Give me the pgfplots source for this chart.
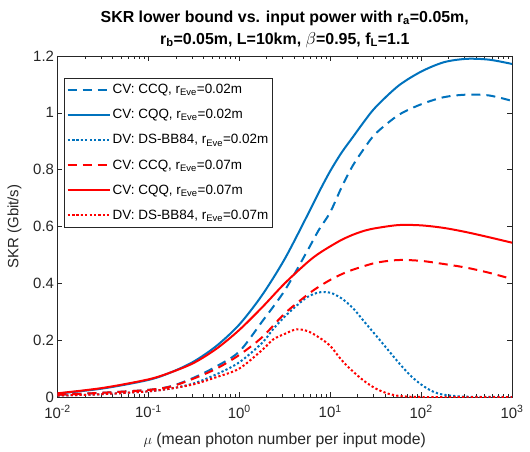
\documentclass[border=0pt]{standalone}
\usepackage{pgfplots}
\pgfplotsset{compat=1.18}
\usepackage{fontspec}
\setmainfont{Liberation Sans}
\definecolor{mblue}{rgb}{0,0.447,0.741}
\definecolor{axgray}{rgb}{0.15,0.15,0.15}

\begin{document}
\begin{tikzpicture}
\useasboundingbox (-57.5bp,-55bp) rectangle (472.5bp,397bp);
\begin{axis}[
    scale only axis,
    width=454.5bp, height=341bp,
    xmode=log,
    xmin=0.01, xmax=1000,
    ymin=0, ymax=1.2,
    xtick={0.01,0.1,1,10,100,1000},
    xticklabels={10\textsuperscript{-2},10\textsuperscript{-1},10\textsuperscript{0},10\textsuperscript{1},10\textsuperscript{2},10\textsuperscript{3}},
    ytick={0,0.2,0.4,0.6,0.8,1,1.2},
    yticklabel style={/pgf/number format/assume math mode=true},
    tick label style={font=\fontsize{15}{17}\selectfont, text=axgray},
    xticklabel style={yshift=-5bp},
    tick align=inside,
    major tick length=5bp, minor tick length=3bp,
    axis line style={axgray, line width=0.5bp},
    every tick/.style={axgray, line width=0.5bp},
    xlabel={$\mu$ (mean photon number per input mode)},
    ylabel={SKR (Gbit/s)},
    label style={text=axgray},
    xlabel style={font=\fontsize{15.8}{18}\selectfont, yshift=-8bp},
    ylabel style={font=\fontsize{15}{17}\selectfont, yshift=5bp},
    title={SKR lower bound vs. input power with r\textsubscript{a}=0.05m,\\r\textsubscript{b}=0.05m, L=10km, $\beta$=0.95, f\textsubscript{L}=1.1},
    title style={font=\bfseries\fontsize{16}{22}\selectfont, align=center, yshift=-1bp},
    legend cell align=left,
    legend style={at={(0.0154,0.9355)}, anchor=north west, draw=axgray,
        font=\fontsize{13.5}{16}\selectfont, row sep=10.3bp, inner sep=2bp,
        inner ysep=4bp},
    legend image code/.code={\draw[#1, line width=2bp] plot coordinates {(0bp,0bp) (42bp,0bp)};},
    every axis plot/.append style={line width=2bp, smooth},
    cvd/.style={dash pattern=on 9bp off 6bp},
    dvd/.style={dash pattern=on 2.2bp off 2.2bp},
]
% CV: CCQ, rEve=0.02m
\addplot[mblue, cvd] coordinates {
(0.01,0.008) (0.03162,0.015) (0.1,0.025) (0.1778,0.038) (0.3162,0.068) (0.5623,0.108)
(1,0.16) (1.778,0.265) (3.162,0.375) (5.623,0.515) (7.499,0.588) (10,0.65) (13.34,0.738)
(17.78,0.815) (23.71,0.875) (31.62,0.927) (56.23,0.992) (100,1.03) (177.8,1.055)
(316.2,1.064) (562.3,1.061) (1000,1.042)};
\addlegendentry{CV: CCQ, r\textsubscript{Eve}=0.02m}
% CV: CQQ, rEve=0.02m
\addplot[mblue] coordinates {
(0.01,0.012) (0.03162,0.030) (0.1,0.060) (0.1778,0.087) (0.3162,0.125) (0.5623,0.180)
(1,0.255) (1.778,0.358) (3.162,0.486) (5.623,0.64) (7.499,0.72) (10,0.795) (13.34,0.86)
(17.78,0.915) (23.71,0.97) (31.62,1.02) (56.23,1.095) (100,1.145) (177.8,1.178)
(316.2,1.19) (562.3,1.187) (1000,1.172)};
\addlegendentry{CV: CQQ, r\textsubscript{Eve}=0.02m}
% DV: DS-BB84, rEve=0.02m
\addplot[mblue, dvd] coordinates {
(0.01,0.005) (0.03162,0.010) (0.1,0.02) (0.1778,0.03) (0.3162,0.048) (0.5623,0.08)
(1,0.122) (1.778,0.19) (2.371,0.24) (3.162,0.283) (4.217,0.32) (5.623,0.352) (7.499,0.368)
(10,0.367) (13.34,0.347) (17.78,0.313) (23.71,0.265) (31.62,0.218) (42.17,0.17)
(56.23,0.122) (74.99,0.078) (100,0.044) (133.4,0.02) (177.8,0.008) (316.2,0.001) (1000,0)};
\addlegendentry{DV: DS-BB84, r\textsubscript{Eve}=0.02m}
% CV: CCQ, rEve=0.07m
\addplot[red, cvd] coordinates {
(0.01,0.008) (0.03162,0.015) (0.1,0.025) (0.1778,0.037) (0.3162,0.065) (0.5623,0.10)
(1,0.148) (1.778,0.21) (3.162,0.294) (5.623,0.36) (7.499,0.388) (10,0.412) (13.34,0.432)
(17.78,0.448) (31.62,0.472) (56.23,0.482) (100,0.479) (177.8,0.468) (316.2,0.455)
(562.3,0.437) (1000,0.415)};
\addlegendentry{CV: CCQ, r\textsubscript{Eve}=0.07m}
% CV: CQQ, rEve=0.07m
\addplot[red] coordinates {
(0.01,0.013) (0.03162,0.032) (0.1,0.062) (0.1778,0.087) (0.3162,0.12) (0.5623,0.17)
(1,0.236) (1.778,0.315) (3.162,0.40) (5.623,0.474) (7.499,0.505) (10,0.53) (13.34,0.553)
(17.78,0.571) (23.71,0.585) (31.62,0.594) (56.23,0.605) (100,0.604) (177.8,0.595)
(316.2,0.58) (562.3,0.562) (1000,0.543)};
\addlegendentry{CV: CQQ, r\textsubscript{Eve}=0.07m}
% DV: DS-BB84, rEve=0.07m
\addplot[red, dvd] coordinates {
(0.01,0.005) (0.03162,0.010) (0.1,0.02) (0.1778,0.03) (0.3162,0.045) (0.5623,0.07)
(1,0.10) (1.778,0.165) (2.371,0.203) (3.162,0.222) (4.217,0.238) (5.623,0.232) (7.499,0.21)
(10,0.18) (13.34,0.13) (17.78,0.09) (23.71,0.056) (31.62,0.03) (42.17,0.013)
(56.23,0.004) (74.99,0.001) (100,0) (1000,0)};
\addlegendentry{DV: DS-BB84, r\textsubscript{Eve}=0.07m}
\end{axis}
\end{tikzpicture}
\end{document}
